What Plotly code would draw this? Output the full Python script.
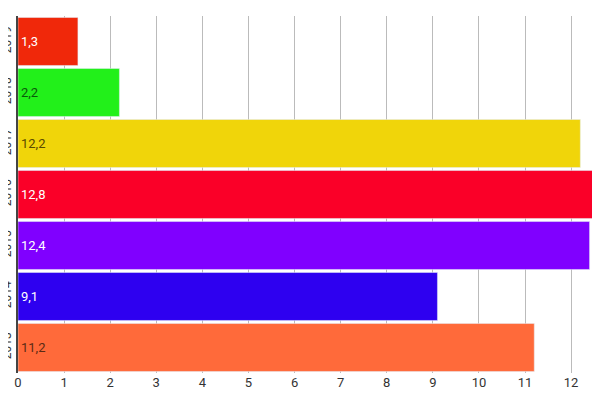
import plotly.graph_objects as go

years = ["2013", "2014", "2015", "2016", "2017", "2018", "2019"]
values = [11.2, 9.1, 12.4, 12.8, 12.2, 2.2, 1.3]
labels = ["11,2", "9,1", "12,4", "12,8", "12,2", "2,2", "1,3"]
colors = ["#ff6a3a", "#2e00f0", "#8000ff", "#fa0028", "#f0d50a", "#22f01a", "#f0280a"]
text_colors = ["#5a2a14", "white", "white", "white", "#5a4a00", "#0a5a0a", "white"]

fig = go.Figure(go.Bar(
    y=years, x=values, orientation="h", marker_color=colors,
    text=labels, textposition="inside", insidetextanchor="start",
    textfont=dict(color=text_colors, size=13, family="Roboto"),
    cliponaxis=False,
))
fig.update_layout(
    width=600, height=400, margin=dict(l=10, r=0, t=8, b=35),
    plot_bgcolor="white", paper_bgcolor="white", bargap=0.06,
    font=dict(family="Roboto", size=13, color="#333"), showlegend=False,
    xaxis=dict(range=[0, 12.8], dtick=1, showgrid=True, gridcolor="#bbbbbb",
               zeroline=False, ticks="", tickfont=dict(size=13), automargin=False),
    yaxis=dict(tickangle=-90, showline=True, linecolor="#444", linewidth=2,
               ticks="", showgrid=False, tickfont=dict(size=12), automargin=False),
)
fig.write_html("out.html")
